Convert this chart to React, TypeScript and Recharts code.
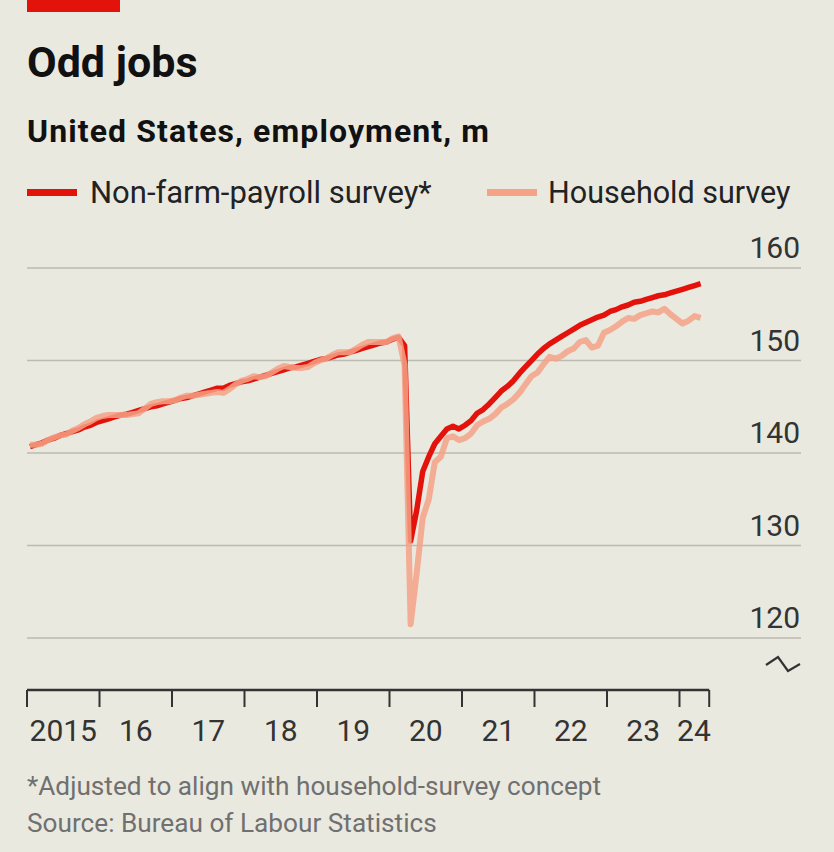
import { LineChart, Line, XAxis, YAxis, ReferenceLine } from "recharts";

// monthly, Jan 2015 - Apr 2024, millions
const START_YEAR = 2015;

const payroll = [
  140.7, 140.9, 141.1, 141.4, 141.6, 141.9, 142.1, 142.3, 142.5, 142.8, 143.0, 143.3, // 2015
  143.5, 143.7, 143.9, 144.1, 144.2, 144.4, 144.6, 144.8, 145.0, 145.1, 145.3, 145.5, // 2016
  145.7, 145.9, 146.0, 146.2, 146.4, 146.6, 146.8, 147.0, 147.0, 147.3, 147.5, 147.7, // 2017
  147.8, 148.0, 148.2, 148.4, 148.6, 148.8, 149.0, 149.2, 149.3, 149.5, 149.7, 149.9, // 2018
  150.1, 150.2, 150.4, 150.6, 150.7, 150.9, 151.1, 151.3, 151.5, 151.7, 151.9, 152.0, // 2019
  152.3, 152.5, 151.6, 130.5, 133.8, 138.0, 139.6, 141.0, 141.8, 142.6, 142.9, 142.6, // 2020
  143.0, 143.5, 144.3, 144.7, 145.3, 146.0, 146.7, 147.2, 147.8, 148.6, 149.3, 150.0, // 2021
  150.7, 151.3, 151.8, 152.2, 152.6, 153.0, 153.4, 153.8, 154.1, 154.4, 154.7, 154.9, // 2022
  155.3, 155.5, 155.8, 156.0, 156.3, 156.4, 156.6, 156.8, 157.0, 157.1, 157.3, 157.5, // 2023
  157.7, 157.9, 158.1, 158.3, // 2024
];

const household = [
  140.9, 140.9, 141.0, 141.4, 141.7, 141.9, 142.0, 142.4, 142.7, 143.1, 143.4, 143.8, // 2015
  144.0, 144.1, 144.1, 144.1, 144.1, 144.2, 144.3, 144.8, 145.3, 145.5, 145.6, 145.6, // 2016
  145.7, 146.0, 146.2, 146.2, 146.3, 146.4, 146.5, 146.6, 146.5, 146.9, 147.4, 147.8, // 2017
  148.0, 148.3, 148.2, 148.3, 148.7, 149.1, 149.4, 149.3, 149.2, 149.2, 149.3, 149.7, // 2018
  150.0, 150.2, 150.6, 150.9, 150.9, 150.9, 151.3, 151.7, 152.0, 152.0, 152.0, 152.0, // 2019
  152.4, 152.6, 149.5, 121.5, 127.0, 133.0, 135.0, 139.0, 139.6, 141.6, 141.8, 141.4, // 2020
  141.6, 142.1, 143.0, 143.4, 143.7, 144.2, 144.9, 145.3, 145.8, 146.5, 147.4, 148.3, // 2021
  148.7, 149.6, 150.4, 150.2, 150.5, 151.0, 151.3, 152.0, 152.2, 151.4, 151.6, 153.0, // 2022
  153.3, 153.7, 154.2, 154.6, 154.5, 154.9, 155.1, 155.3, 155.2, 155.6, 155.0, 154.5, // 2023
  154.0, 154.3, 154.8, 154.6, // 2024
];

const yTicks = [120, 130, 140, 150, 160];
const yearTicks = [2015, 2016, 2017, 2018, 2019, 2020, 2021, 2022, 2023, 2024, 2024.41];
const yearLabelTicks = [2015.5, 2016.5, 2017.5, 2018.5, 2019.5, 2020.5, 2021.5, 2022.5, 2023.5, 2024.2];
const yearLabels = ["2015", "16", "17", "18", "19", "20", "21", "22", "23", "24"];

const X_MIN = 2015;
const X_MAX = 2025.676;
const AXIS_END = 2024.41;
const Y_MIN = 114.38;
const Y_MAX = 160;

const RED = "#e3120b";
const PINK = "#f5a286";
const BG = "#eae9e0";
const FONT = "Roboto, 'Liberation Sans', sans-serif";

const toTime = (i: number) => START_YEAR + (i + 0.5) / 12;
const payrollData = payroll.map((v, i) => ({ t: toTime(i), v }));
const householdData = household.map((v, i) => ({ t: toTime(i), v }));

const YTick = (props: any) => {
  const { x, y, payload } = props;
  return (
    <text x={x - 1} y={y - 10} textAnchor="end" fontSize={30} fontFamily={FONT} fill="#333">
      {payload.value}
    </text>
  );
};

const XLabelTick = (props: any) => {
  const { x, y, payload } = props;
  const idx = yearLabelTicks.indexOf(payload.value);
  return (
    <text x={x} y={y + 35} textAnchor="middle" fontSize={30} fontFamily={FONT} fill="#333">
      {yearLabels[idx]}
    </text>
  );
};

const EmptyTick = () => <g />;

export default function App() {
  return (
    <div style={{ position: "absolute", left: 0, top: 0, width: 834, height: 852, background: BG, overflow: "hidden" }}>
      <div style={{ position: "absolute", left: 0, top: 0 }}>
        <LineChart
          width={834}
          height={852}
          margin={{ top: 268, right: 0, bottom: 106, left: 27 }}
        >
          <XAxis
            xAxisId="a"
            type="number"
            dataKey="t"
            domain={[X_MIN, X_MAX]}
            ticks={yearTicks}
            allowDataOverflow
            axisLine={false}
            tick={<EmptyTick />}
            tickLine={{ stroke: "#333", strokeWidth: 2 }}
            tickSize={17}
            height={16}
            interval={0}
          />
          <XAxis
            xAxisId="b"
            type="number"
            dataKey="t"
            domain={[X_MIN, X_MAX]}
            ticks={yearLabelTicks}
            allowDataOverflow
            axisLine={false}
            tickLine={false}
            tickSize={0}
            tickMargin={0}
            tick={<XLabelTick />}
            height={40}
            interval={0}
          />
          <YAxis
            orientation="right"
            type="number"
            domain={[Y_MIN, Y_MAX]}
            ticks={yTicks}
            allowDataOverflow
            axisLine={false}
            tickLine={false}
            tickSize={0}
            tickMargin={0}
            width={33}
            tick={<YTick />}
            interval={0}
          />
          {yTicks.map((t) => (
            <ReferenceLine key={t} xAxisId="a" y={t} stroke="#bcbab1" strokeWidth={1.5} />
          ))}
          <ReferenceLine
            xAxisId="a"
            segment={[{ x: X_MIN, y: Y_MIN }, { x: AXIS_END, y: Y_MIN }]}
            stroke="#333"
            strokeWidth={2.5}
            ifOverflow="visible"
          />
          <Line
            xAxisId="a"
            data={payrollData}
            dataKey="v"
            type="linear"
            stroke={RED}
            strokeWidth={5.5}
            dot={false}
            strokeLinejoin="round"
            isAnimationActive={false}
          />
          <Line
            xAxisId="b"
            data={householdData}
            dataKey="v"
            type="linear"
            stroke={PINK}
            strokeOpacity={0.85}
            strokeWidth={6}
            dot={false}
            strokeLinejoin="round"
            isAnimationActive={false}
          />
        </LineChart>
      </div>
      <svg width={834} height={852} style={{ position: "absolute", left: 0, top: 0, pointerEvents: "none" }}>
        <rect x={27} y={0} width={93} height={12} fill={RED} />
        <text x={27} y={77} fontFamily={FONT} fontWeight={700} fontSize={43} fill="#111">
          Odd jobs
        </text>
        <text x={27} y={142} fontFamily={FONT} fontWeight={700} fontSize={32} letterSpacing={1.1} fill="#111">
          United States, employment, m
        </text>
        <rect x={27} y={189} width={50} height={7} fill={RED} />
        <text x={90} y={203} fontFamily={FONT} fontSize={31} fill="#222">
          Non-farm-payroll survey*
        </text>
        <rect x={487} y={189} width={50} height={7} fill={PINK} />
        <text x={548} y={203} fontFamily={FONT} fontSize={30.5} fill="#222">
          Household survey
        </text>
        <path d="M766 665 L778 657 L788 671 L800 664" fill="none" stroke="#333" strokeWidth={2.2} />
        <text x={27} y={795} fontFamily={FONT} fontSize={26.2} fill="#707070">
          *Adjusted to align with household-survey concept
        </text>
        <text x={27} y={832} fontFamily={FONT} fontSize={26.2} fill="#707070">
          Source: Bureau of Labour Statistics
        </text>
      </svg>
    </div>
  );
}
